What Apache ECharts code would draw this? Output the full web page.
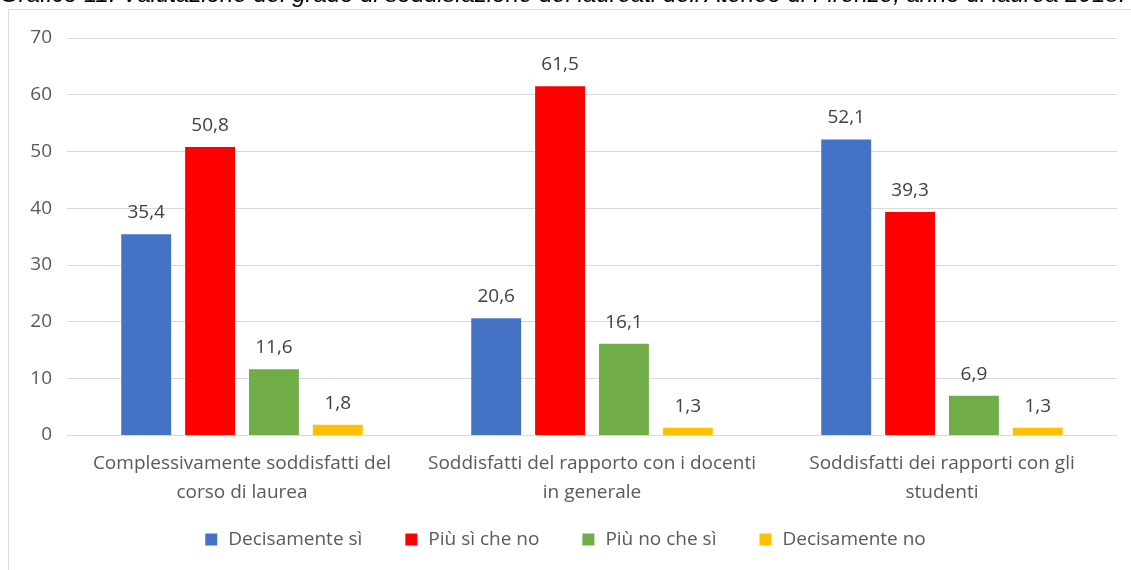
<!DOCTYPE html>
<html>
<head>
<meta charset="utf-8">
<script src="https://cdn.jsdelivr.net/npm/echarts@6/dist/echarts.min.js"></script>
<style>
  html, body { margin: 0; padding: 0; background: #fff; }
  #chart { width: 1131px; height: 570px; }
</style>
</head>
<body>
<div id="chart"></div>
<script>
  // categorie (asse x)
  var categories = [
    'Complessivamente soddisfatti del\ncorso di laurea',
    'Soddisfatti del rapporto con i docenti\nin generale',
    'Soddisfatti dei rapporti con gli\nstudenti'
  ]
  var seriesNames = ['Decisamente sì', 'Più sì che no', 'Più no che sì', 'Decisamente no']
  // valori %
  var decisamenteSi = [35.4, 20.6, 52.1]
  var piuSiCheNo = [50.8, 61.5, 39.3]
  var piuNoCheSi = [11.6, 16.1, 6.9]
  var decisamenteNo = [1.8, 1.3, 1.3]
  var colors = ['#4472c4', '#ff0000', '#70ad47', '#ffc000']

  var font = 'Open Sans'
  var fs = 19
  var chart = echarts.init(document.getElementById('chart'))

  function bar(name, data, color) {
    return {
      name: name,
      type: 'bar',
      data: data,
      barGap: '28%',
      barCategoryGap: '31%',
      itemStyle: { color: color },
      label: {
        show: true,
        position: 'top',
        distance: 12,
        color: '#404040',
        fontFamily: font,
        fontSize: fs,
        formatter: function (p) { return p.value.toFixed(1).replace('.', ',') }
      }
    }
  }

  var option = {
    animation: false,
    color: colors,
    graphic: [
      {
        type: 'text',
        left: 0,
        top: -17,
        style: {
          text: "Grafico 11. Valutazione del grado di soddisfazione dei laureati dell'Ateneo di Firenze, anno di laurea 2018.",
          font: 'italic 24px "Liberation Sans"',
          fill: '#000'
        }
      },
      {
        type: 'rect',
        shape: { x: 8.5, y: 9.5, width: 1200, height: 700 },
        style: { fill: 'none', stroke: '#d9d9d9', lineWidth: 1 }
      }
    ],
    grid: { left: 67, right: 14, top: 38, bottom: 135, containLabel: false },
    legend: {
      bottom: 16,
      left: 'center',
      itemWidth: 12,
      itemHeight: 12,
      itemGap: 43,
      icon: 'rect',
      textStyle: { color: '#595959', fontFamily: font, fontSize: fs, padding: [0, 0, 0, 6] },
      data: seriesNames
    },
    xAxis: {
      type: 'category',
      data: categories,
      axisTick: { show: false },
      axisLine: { lineStyle: { color: '#d9d9d9' } },
      axisLabel: {
        color: '#595959',
        fontFamily: font,
        fontSize: fs,
        lineHeight: 29,
        margin: 14,
        interval: 0
      }
    },
    yAxis: {
      type: 'value',
      min: 0,
      max: 70,
      interval: 10,
      axisLabel: { color: '#595959', fontFamily: font, fontSize: fs, margin: 15 },
      splitLine: { lineStyle: { color: '#d9d9d9' } },
      axisLine: { show: false },
      axisTick: { show: false }
    },
    series: [
      bar(seriesNames[0], decisamenteSi, colors[0]),
      bar(seriesNames[1], piuSiCheNo, colors[1]),
      bar(seriesNames[2], piuNoCheSi, colors[2]),
      bar(seriesNames[3], decisamenteNo, colors[3])
    ]
  }
  chart.setOption(option)
</script>
</body>
</html>
